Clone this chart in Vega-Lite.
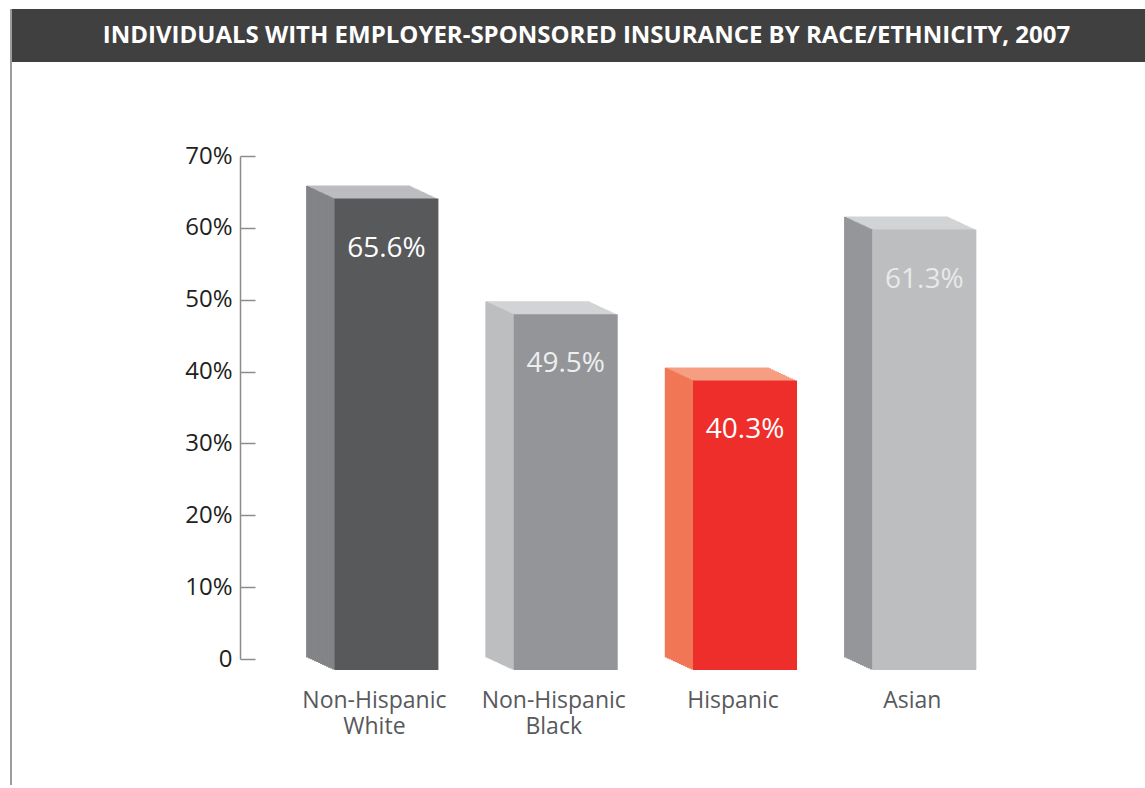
{
  "$schema": "https://vega.github.io/schema/vega-lite/v6.json",
  "padding": {"left": 10, "top": 9, "right": 0, "bottom": 0},
  "background": "white",
  "spacing": 0,
  "hconcat": [
    {
      "width": 2,
      "height": 776,
      "view": {"fill": "#9d9d9d", "stroke": null},
      "data": {"values": [{"t": ""}]},
      "mark": {"type": "text"},
      "encoding": {"text": {"field": "t"}}
    },
    {
      "spacing": 82,
      "vconcat": [
        {
          "width": 1133,
          "height": 53,
          "view": {"fill": "#404041", "stroke": null},
          "data": {"values": [{"title": "INDIVIDUALS WITH EMPLOYER-SPONSORED INSURANCE BY RACE/ETHNICITY, 2007"}]},
          "mark": {"type": "text", "font": "Open Sans", "fontWeight": "bold", "fontSize": 24, "color": "#ffffff", "dx": 8, "baseline": "middle", "align": "center"},
          "encoding": {"text": {"field": "title"}}
        },
        {
          "width": 1002,
          "height": 503,
          "view": {"stroke": null},
          "data": {"values": [
            {"group": "Non-Hispanic White", "value": 0.656},
            {"group": "Non-Hispanic Black", "value": 0.495},
            {"group": "Hispanic", "value": 0.403},
            {"group": "Asian", "value": 0.613}
          ]},
          "encoding": {
            "x": {"field": "group", "type": "nominal", "sort": null,
              "scale": {"paddingInner": 0, "paddingOuter": 0.794, "align": 1},
              "axis": {"title": null, "domain": false, "ticks": false, "tickSize": 0, "labelAngle": 0, "labelFont": "Open Sans", "labelFontSize": 23, "labelColor": "#58595b", "labelPadding": 30, "labelOffset": -12, "labelLineHeight": 26, "labelExpr": "split(datum.label, ' ')"}},
            "y": {"field": "value", "type": "quantitative",
              "scale": {"domain": [0, 0.7], "nice": false},
              "axis": {"title": null, "grid": false, "values": [0, 0.1, 0.2, 0.3, 0.4, 0.5, 0.6, 0.7], "labelExpr": "datum.value == 0 ? '0' : format(datum.value, '.0%')", "offset": -228, "tickSize": -15, "labelPadding": 23, "domainColor": "#8c8c8c", "tickColor": "#8c8c8c", "domainWidth": 1.5, "tickWidth": 1.5, "labelFont": "Open Sans", "labelFontSize": 24, "labelColor": "#231f20"}}
          },
          "layer": [
            {
              "encoding": {"color": {"field": "group", "type": "nominal", "legend": null, "scale": {"domain": ["Non-Hispanic White", "Non-Hispanic Black", "Hispanic", "Asian"], "range": ["#bcbdc0", "#d1d3d4", "#f59e82", "#d1d3d4"]}}},
              "layer": [
                {"mark": {"type": "bar", "width": 104, "xOffset": -28, "x2Offset": -28, "yOffset": -2, "y2Offset": 0}},
                {"mark": {"type": "bar", "width": 104, "xOffset": -26, "x2Offset": -26, "yOffset": -1.07, "y2Offset": 0}},
                {"mark": {"type": "bar", "width": 104, "xOffset": -24, "x2Offset": -24, "yOffset": -0.14, "y2Offset": 0}},
                {"mark": {"type": "bar", "width": 104, "xOffset": -22, "x2Offset": -22, "yOffset": 0.79, "y2Offset": 0}},
                {"mark": {"type": "bar", "width": 104, "xOffset": -20, "x2Offset": -20, "yOffset": 1.71, "y2Offset": 0}},
                {"mark": {"type": "bar", "width": 104, "xOffset": -18, "x2Offset": -18, "yOffset": 2.64, "y2Offset": 0}},
                {"mark": {"type": "bar", "width": 104, "xOffset": -16, "x2Offset": -16, "yOffset": 3.57, "y2Offset": 0}},
                {"mark": {"type": "bar", "width": 104, "xOffset": -14, "x2Offset": -14, "yOffset": 4.5, "y2Offset": 0}},
                {"mark": {"type": "bar", "width": 104, "xOffset": -12, "x2Offset": -12, "yOffset": 5.43, "y2Offset": 0}},
                {"mark": {"type": "bar", "width": 104, "xOffset": -10, "x2Offset": -10, "yOffset": 6.36, "y2Offset": 0}},
                {"mark": {"type": "bar", "width": 104, "xOffset": -8, "x2Offset": -8, "yOffset": 7.29, "y2Offset": 0}},
                {"mark": {"type": "bar", "width": 104, "xOffset": -6, "x2Offset": -6, "yOffset": 8.21, "y2Offset": 0}},
                {"mark": {"type": "bar", "width": 104, "xOffset": -4, "x2Offset": -4, "yOffset": 9.14, "y2Offset": 0}},
                {"mark": {"type": "bar", "width": 104, "xOffset": -2, "x2Offset": -2, "yOffset": 10.07, "y2Offset": 0}}
              ]
            },
            {
              "encoding": {"color": {"field": "group", "type": "nominal", "legend": null, "scale": {"domain": ["Non-Hispanic White", "Non-Hispanic Black", "Hispanic", "Asian"], "range": ["#808285", "#bcbec0", "#f17757", "#939598"]}}},
              "layer": [
                {"mark": {"type": "bar", "width": 2.5, "xOffset": -79, "x2Offset": -79, "yOffset": -1.54, "y2Offset": 0.39}},
                {"mark": {"type": "bar", "width": 2.5, "xOffset": -77, "x2Offset": -77, "yOffset": -0.61, "y2Offset": 1.18}},
                {"mark": {"type": "bar", "width": 2.5, "xOffset": -75, "x2Offset": -75, "yOffset": 0.32, "y2Offset": 1.96}},
                {"mark": {"type": "bar", "width": 2.5, "xOffset": -73, "x2Offset": -73, "yOffset": 1.25, "y2Offset": 2.75}},
                {"mark": {"type": "bar", "width": 2.5, "xOffset": -71, "x2Offset": -71, "yOffset": 2.18, "y2Offset": 3.54}},
                {"mark": {"type": "bar", "width": 2.5, "xOffset": -69, "x2Offset": -69, "yOffset": 3.11, "y2Offset": 4.32}},
                {"mark": {"type": "bar", "width": 2.5, "xOffset": -67, "x2Offset": -67, "yOffset": 4.04, "y2Offset": 5.11}},
                {"mark": {"type": "bar", "width": 2.5, "xOffset": -65, "x2Offset": -65, "yOffset": 4.96, "y2Offset": 5.89}},
                {"mark": {"type": "bar", "width": 2.5, "xOffset": -63, "x2Offset": -63, "yOffset": 5.89, "y2Offset": 6.68}},
                {"mark": {"type": "bar", "width": 2.5, "xOffset": -61, "x2Offset": -61, "yOffset": 6.82, "y2Offset": 7.46}},
                {"mark": {"type": "bar", "width": 2.5, "xOffset": -59, "x2Offset": -59, "yOffset": 7.75, "y2Offset": 8.25}},
                {"mark": {"type": "bar", "width": 2.5, "xOffset": -57, "x2Offset": -57, "yOffset": 8.68, "y2Offset": 9.04}},
                {"mark": {"type": "bar", "width": 2.5, "xOffset": -55, "x2Offset": -55, "yOffset": 9.61, "y2Offset": 9.82}},
                {"mark": {"type": "bar", "width": 2.5, "xOffset": -53, "x2Offset": -53, "yOffset": 10.54, "y2Offset": 10.61}}
              ]
            },
            {
              "mark": {"type": "bar", "width": 104, "xOffset": 0, "yOffset": 11, "y2Offset": 11},
              "encoding": {"color": {"field": "group", "type": "nominal", "legend": null, "scale": {"domain": ["Non-Hispanic White", "Non-Hispanic Black", "Hispanic", "Asian"], "range": ["#58595b", "#939598", "#ee2e2a", "#bcbec0"]}}}
            },
            {
              "mark": {"type": "text", "font": "Open Sans", "fontSize": 28, "baseline": "alphabetic", "align": "center", "dy": 69},
              "encoding": {
                "text": {"field": "value", "type": "quantitative", "format": ".1%"},
                "color": {"field": "group", "type": "nominal", "legend": null, "scale": {"domain": ["Non-Hispanic White", "Non-Hispanic Black", "Hispanic", "Asian"], "range": ["#ffffff", "#eeeeef", "#ffffff", "#e9e9ea"]}}
              }
            }
          ],
          "resolve": {"scale": {"color": "independent"}}
        }
      ]
    }
  ]
}
